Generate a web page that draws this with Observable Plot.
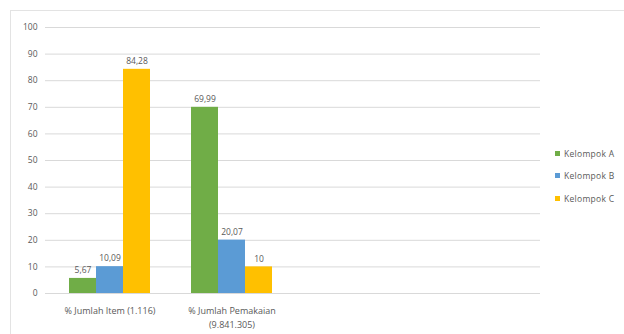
<!DOCTYPE html>
<html>
<head>
<meta charset="utf-8">
<script src="https://cdn.jsdelivr.net/npm/d3@7"></script>
<script src="https://cdn.jsdelivr.net/npm/@observablehq/plot@0.6"></script>
<style>
  html, body { margin: 0; padding: 0; background: #fff; width: 624px; height: 334px; overflow: hidden; }
  #wrap { position: relative; width: 624px; height: 334px; font-family: "Open Sans", "Liberation Sans", sans-serif; }
  #border { position: absolute; left: 10px; top: 10px; width: 700px; height: 400px; border: 1px solid #e3e3e3; box-sizing: border-box; }
  #chart { position: absolute; left: 0; top: 0; }
  #legend { position: absolute; left: 555px; top: 142px; font-size: 8.5px; color: #595959; white-space: nowrap; letter-spacing: 0.3px; }
  #legend .item { display: flex; align-items: center; height: 22.5px; }
  #legend .sw { width: 5px; height: 5px; margin-right: 4px; }
</style>
</head>
<body>
<div id="wrap">
  <div id="border"></div>
  <div id="chart"></div>
  <div id="legend"></div>
</div>
<script>
const categories = ["% Jumlah Item (1.116)", "% Jumlah Pemakaian\n(9.841.305)"];
const seriesNames = ["Kelompok A", "Kelompok B", "Kelompok C"];
const seriesColors = ["#70AD47", "#5B9BD5", "#FFC000"];
const kelompokA = [5.67, 69.99];
const kelompokB = [10.09, 20.07];
const kelompokC = [84.28, 10];
const yTicks = [0, 10, 20, 30, 40, 50, 60, 70, 80, 90, 100];

const seriesValues = [kelompokA, kelompokB, kelompokC];
const rows = [];
seriesNames.forEach((s, si) => {
  categories.forEach((c, ci) => rows.push({category: c, series: s, si, value: seriesValues[si][ci]}));
});
const fmt = v => String(v).replace(".", ",");
const barW = 27;

const marks = [
  Plot.ruleY(yTicks, {stroke: "#d9d9d9", strokeWidth: 1}),
  Plot.axisY({ticks: yTicks, tickSize: 0, tickPadding: 8, fontSize: 8.5, fill: "#595959"}),
  Plot.axisX({tickSize: 0, tickPadding: 11, fontSize: 9, fill: "#595959", lineHeight: 1.55})
];
seriesNames.forEach((s, si) => {
  const data = rows.filter(r => r.si === si);
  const off = (si - 1) * barW;
  marks.push(Plot.barY(data, {x: "category", y: "value", fill: seriesColors[si], dx: off}));
  marks.push(Plot.text(data, {x: "category", y: "value", text: d => fmt(d.value), dx: off, dy: -8, fontSize: 8.5, fill: "#595959"}));
});

const chart = Plot.plot({
  width: 624,
  height: 334,
  marginLeft: 45,
  marginRight: 84,
  marginTop: 27,
  marginBottom: 41,
  style: {fontFamily: "'Open Sans', 'Liberation Sans', sans-serif", background: "transparent", overflow: "visible"},
  x: {domain: categories, range: [48, 292], paddingInner: 0.78, paddingOuter: 0.39, label: null},
  y: {domain: [0, 100], label: null},
  marks
});
document.getElementById("chart").appendChild(chart);

const legend = document.getElementById("legend");
seriesNames.forEach((s, i) => {
  const item = document.createElement("div");
  item.className = "item";
  const sw = document.createElement("span");
  sw.className = "sw";
  sw.style.background = seriesColors[i];
  const t = document.createElement("span");
  t.textContent = s;
  item.appendChild(sw);
  item.appendChild(t);
  legend.appendChild(item);
});
</script>
</body>
</html>
